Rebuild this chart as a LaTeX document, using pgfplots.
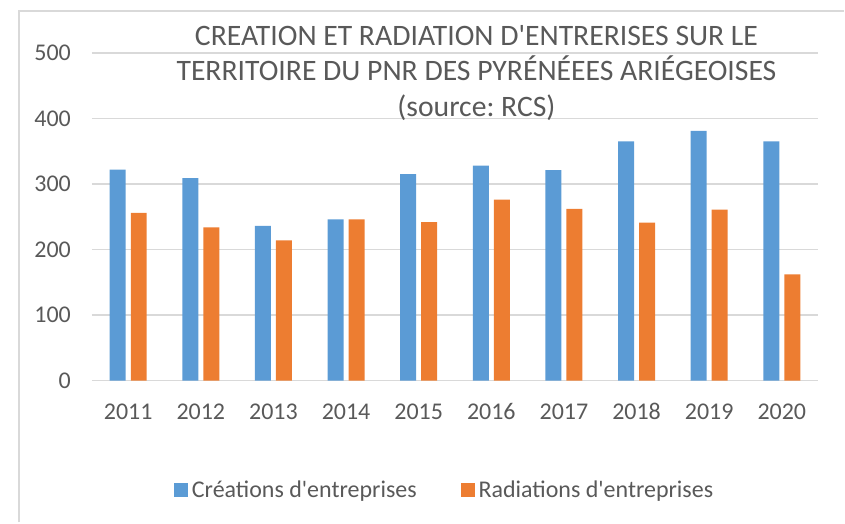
\documentclass[border=0pt]{standalone}
\usepackage{pgfplots}
\pgfplotsset{compat=1.18}
\usepackage{fontspec}
\setmainfont{Carlito}[Ligatures=TeXOff]
\frenchspacing
\definecolor{creablue}{HTML}{5B9BD5}
\definecolor{radorange}{HTML}{ED7D31}
\definecolor{txtgray}{HTML}{595959}
\definecolor{gridgray}{HTML}{D9D9D9}

\begin{document}
\begin{tikzpicture}
\begin{axis}[
    scale only axis,
    width=363.5pt, height=164pt,
    xmin=-0.5, xmax=9.5,
    ymin=0, ymax=500,
    ytick={0,100,200,300,400,500},
    xtick={0,...,9},
    xticklabels={2011,2012,2013,2014,2015,2016,2017,2018,2019,2020},
    axis line style={draw=none},
    major tick length=0pt,
    ymajorgrids,
    grid style={color=gridgray, line width=0.8pt},
    tick label style={font=\fontsize{12}{14}\selectfont, text=txtgray},
    /pgf/number format/assume math mode=true,
    xticklabel style={yshift=-8pt, text height=8pt, text depth=0pt},
    yticklabel style={xshift=-7pt},
    ybar, bar width=0.22,
    legend columns=2,
    legend style={at={(0.487,-0.335)}, anchor=center, draw=none,
        font=\fontsize{12}{14}\selectfont, text=txtgray,
        /tikz/every even column/.append style={column sep=20pt}},
    legend image code/.code={\fill[#1] (-1.5pt,-3.5pt) rectangle (5.5pt,3.5pt);},
]
\addplot[fill=creablue, draw=none, bar shift=-0.145] coordinates
    {(0,322) (1,309) (2,236) (3,246) (4,315) (5,328) (6,321) (7,365) (8,381) (9,365)};
\addplot[fill=radorange, draw=none, bar shift=0.145] coordinates
    {(0,256) (1,234) (2,214) (3,246) (4,242) (5,276) (6,262) (7,241) (8,261) (9,162)};
\legend{Créations d'entreprises, Radiations d'entreprises}
\coordinate (O) at (rel axis cs:0,0);
\end{axis}
% chart frame
\draw[gridgray, line width=0.9pt] ([xshift=-36.5pt,yshift=-71pt]O) -- ([xshift=-36.5pt,yshift=185pt]O) -- ([xshift=376.5pt,yshift=185pt]O);
% title
\node[align=center, text=txtgray, font=\fontsize{14.85}{17.8}\selectfont]
    at ([xshift=192.5pt,yshift=154pt]O)
    {CREATION ET RADIATION D'ENTRERISES SUR LE\\TERRITOIRE DU PNR DES PYRÉNÉEES ARIÉGEOISES\\(source: RCS)};
\useasboundingbox ([xshift=-46pt,yshift=-71pt]O) rectangle ([xshift=376.5pt,yshift=190.5pt]O);
\end{tikzpicture}
\end{document}
